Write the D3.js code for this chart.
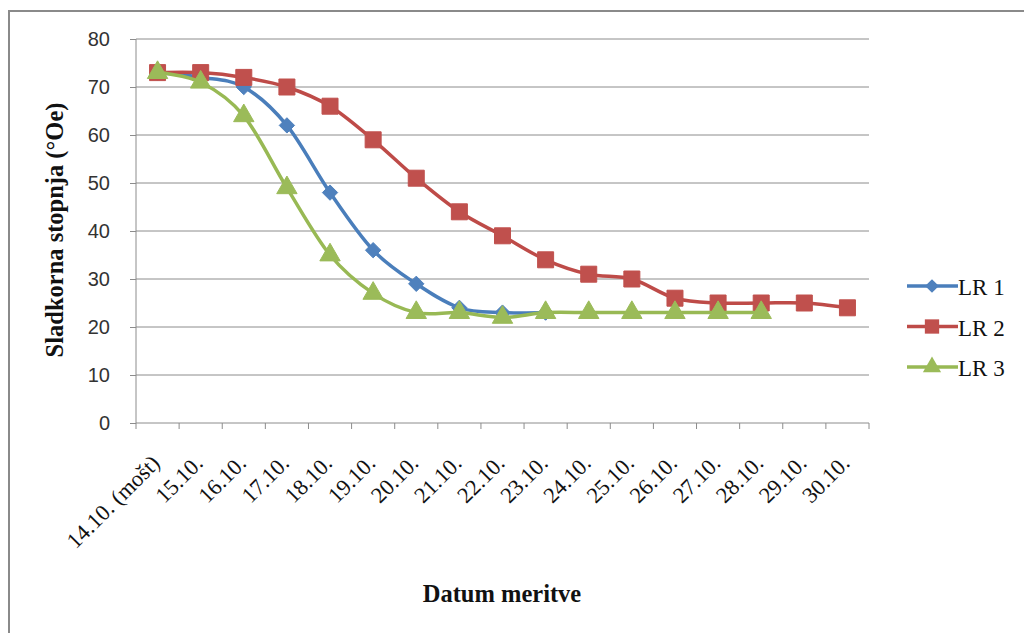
<!DOCTYPE html>
<html>
<head>
<meta charset="utf-8">
<script src="https://cdn.jsdelivr.net/npm/d3@7"></script>
<style>
  body { margin: 0; background: #fff; }
</style>
</head>
<body>
<div id="chart-area"></div>
<script>
// measuring dates
const dates = ["14.10. (mošt)", "15.10.", "16.10.", "17.10.", "18.10.", "19.10.", "20.10.", "21.10.",
  "22.10.", "23.10.", "24.10.", "25.10.", "26.10.", "27.10.", "28.10.", "29.10.", "30.10."];

const lr1 = [73, 72, 70, 62, 48, 36, 29, 24, 23, 23];
const lr2 = [73, 73, 72, 70, 66, 59, 51, 44, 39, 34, 31, 30, 26, 25, 25, 25, 24];
const lr3 = [73, 71, 64, 49, 35, 27, 23, 23, 22, 23, 23, 23, 23, 23, 23];

const seriesNames = ["LR 1", "LR 2", "LR 3"];
const yTicks = [0, 10, 20, 30, 40, 50, 60, 70, 80];

const series = [
  { name: seriesNames[0], values: lr1, color: "#4A7EBB", fill: "#4F81BD", shape: d3.symbolDiamond2, size: 150 },
  { name: seriesNames[1], values: lr2, color: "#BE4B48", fill: "#C0504D", shape: d3.symbolSquare, size: 256 },
  { name: seriesNames[2], values: lr3, color: "#98B954", fill: "#9BBB59", shape: d3.symbolTriangle, size: 180 }
];

const svg = d3.select("#chart-area").append("svg")
  .attr("width", 1024)
  .attr("height", 633);

// outer frame (continues beyond the picture on the right / bottom)
svg.append("path")
  .attr("d", "M9,640 L9,11 L1030,11")
  .attr("fill", "none")
  .attr("stroke", "#8a8a8a")
  .attr("stroke-width", 2);

const pLeft = 136, pRight = 869, pTop = 39, pBottom = 423;

const x = d3.scaleBand().domain(d3.range(dates.length)).range([pLeft, pRight]);
const y = d3.scaleLinear().domain([0, 80]).range([pBottom, pTop]);

// grid
svg.append("g").selectAll("line")
  .data(yTicks.filter(d => d > 0)).enter().append("line")
  .attr("x1", pLeft).attr("x2", pRight)
  .attr("y1", d => y(d)).attr("y2", d => y(d))
  .attr("stroke", "#8c8c8c").attr("stroke-width", 1);

// y axis
const axisY = d3.axisLeft(y).tickValues(yTicks).tickSize(6).tickPadding(20);
const gy = svg.append("g").attr("transform", "translate(" + pLeft + ",0)").call(axisY);
gy.select(".domain").attr("stroke", "#8c8c8c").attr("d", "M0," + pTop + "V" + pBottom);
gy.selectAll(".tick line").attr("stroke", "#8c8c8c");
gy.selectAll("text").attr("font-family", "'Liberation Sans', Arial, sans-serif")
  .attr("font-size", 20).attr("fill", "#333");

// x axis
const axisX = d3.axisBottom(x).tickSize(0).tickFormat(i => dates[i]);
const gx = svg.append("g").attr("transform", "translate(0," + pBottom + ")").call(axisX);
gx.select(".domain").attr("stroke", "#8c8c8c").attr("d", "M" + pLeft + ",0H" + pRight);
gx.selectAll(".tick text")
  .attr("font-family", "'Liberation Serif', 'Times New Roman', serif")
  .attr("font-size", 22.5).attr("fill", "#111")
  .attr("text-anchor", "end")
  .attr("transform", "translate(-2,36) rotate(-45)")
  .attr("dy", "0.35em").attr("y", 0);

// x ticks at band boundaries
svg.append("g").selectAll("line")
  .data(d3.range(dates.length + 1)).enter().append("line")
  .attr("x1", i => pLeft + i * x.step()).attr("x2", i => pLeft + i * x.step())
  .attr("y1", pBottom).attr("y2", pBottom + 6)
  .attr("stroke", "#8c8c8c");

const cx = i => x(i) + x.bandwidth() / 2;

const line = d3.line()
  .x((d, i) => cx(i))
  .y(d => y(d))
  .curve(d3.curveCatmullRom.alpha(0));

series.forEach(s => {
  svg.append("path")
    .datum(s.values)
    .attr("d", line)
    .attr("fill", "none")
    .attr("stroke", s.color)
    .attr("stroke-width", 3.5)
    .attr("stroke-linejoin", "round");
  svg.append("g").selectAll("path")
    .data(s.values).enter().append("path")
    .attr("transform", (d, i) => "translate(" + cx(i) + "," + y(d) + ")")
    .attr("d", d3.symbol().type(s.shape).size(s.size))
    .attr("fill", s.fill)
    .attr("stroke", s.fill);
});

// legend
const legend = svg.append("g").attr("transform", "translate(907,286)");
series.forEach((s, i) => {
  const g = legend.append("g").attr("transform", "translate(0," + i * 40.5 + ")");
  g.append("line").attr("x1", 0).attr("x2", 51).attr("y1", 0).attr("y2", 0)
    .attr("stroke", s.color).attr("stroke-width", 3.5);
  g.append("path").attr("transform", "translate(25,0)")
    .attr("d", d3.symbol().type(s.shape).size(s.size * 0.8))
    .attr("fill", s.fill);
  g.append("text").attr("x", 51).attr("y", 1).attr("dy", "0.35em")
    .attr("font-family", "'Liberation Serif', 'Times New Roman', serif")
    .attr("font-size", 23).attr("fill", "#111")
    .text(s.name);
});

// axis titles
svg.append("text")
  .attr("transform", "translate(63,230) rotate(-90)")
  .attr("text-anchor", "middle")
  .attr("font-family", "'Liberation Serif', 'Times New Roman', serif")
  .attr("font-weight", "bold").attr("font-size", 24.5).attr("fill", "#111")
  .text("Sladkorna stopnja (°Oe)");

svg.append("text")
  .attr("x", 502).attr("y", 602)
  .attr("text-anchor", "middle")
  .attr("font-family", "'Liberation Serif', 'Times New Roman', serif")
  .attr("font-weight", "bold").attr("font-size", 24.5).attr("fill", "#111")
  .text("Datum meritve");
</script>
</body>
</html>
